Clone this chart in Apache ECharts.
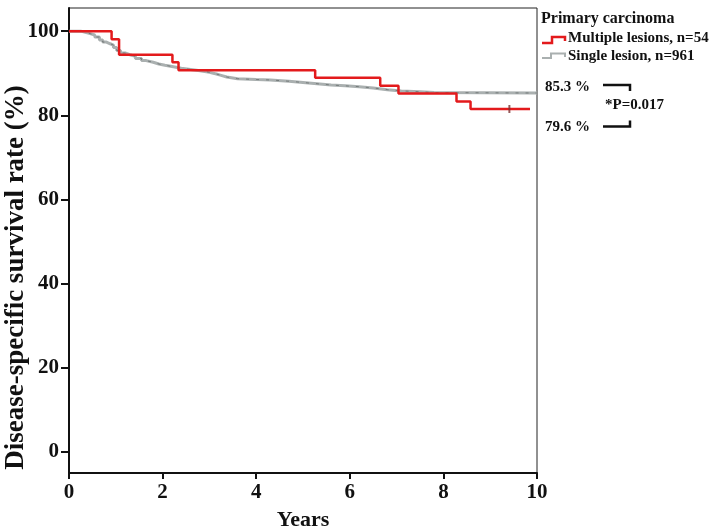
<!DOCTYPE html>
<html>
<head>
<meta charset="utf-8">
<script src="https://cdn.jsdelivr.net/npm/echarts@6/dist/echarts.min.js"></script>
<style>html,body{margin:0;padding:0;background:#fff}#c{width:713px;height:531px}</style>
</head>
<body>
<div id="c"></div>
<script>
const xTicks = [0, 2, 4, 6, 8, 10];
const yTicks = [0, 20, 40, 60, 80, 100];
// Multiple lesions (n=54): [years, survival %]
const multipleLesions = [[0,100],[0.91,98.1],[1.07,94.4],[2.21,92.6],[2.34,90.7],[5.26,88.9],[6.65,87.0],[7.04,85.2],[8.28,83.3],[8.58,81.5],[9.85,81.5]];
const multipleCensor = [[9.41,81.5]];
// Single lesion (n=961)
const singleLesion = [[0,100],[0.15,100],[0.25,99.7],[0.35,99.4],[0.45,99.1],[0.55,98.6],[0.65,97.9],[0.72,97.4],[0.8,97.0],[0.88,96.7],[0.95,96.1],[1.02,95.4],[1.1,94.8],[1.2,94.4],[1.3,94.0],[1.42,93.5],[1.55,93.0],[1.65,92.6],[1.8,92.2],[1.92,91.9],[2.05,91.6],[2.2,91.2],[2.4,90.9],[2.6,90.6],[2.8,90.2],[3.0,89.8],[3.15,89.5],[3.25,89.1],[3.37,88.7],[3.6,88.5],[4.0,88.4],[4.3,88.1],[4.7,87.8],[5.0,87.5],[5.3,87.2],[5.6,87.0],[5.9,86.8],[6.2,86.5],[6.5,86.1],[6.8,85.8],[7.1,85.6],[7.5,85.4],[7.8,85.3],[10,85.3]];

const F = '"Liberation Serif","Times New Roman",serif';
const chart = echarts.init(document.getElementById('c'), null, {renderer:'canvas'});
chart.setOption({
  animation: false,
  grid: {left: 69, right: 176, top: 8, bottom: 58, show: true, borderColor: '#222', borderWidth: 1, backgroundColor: 'transparent', containLabel: false, outerBoundsMode: 'none'},
  xAxis: {
    type: 'value', min: 0, max: 10, interval: 2,
    name: 'Years', nameLocation: 'middle', nameGap: 36,
    nameTextStyle: {fontFamily: F, fontWeight: 'bold', fontSize: 22, color: '#111'},
    axisLine: {show: true, onZero: false, lineStyle: {color: '#111', width: 2}},
    axisTick: {show: true, inside: false, length: 6, lineStyle: {color: '#111', width: 2}},
    axisLabel: {fontFamily: F, fontWeight: 'bold', fontSize: 21, color: '#111', margin: 9},
    splitLine: {show: false}
  },
  yAxis: {
    type: 'value', min: -5, max: 105.5,
    name: 'Disease-specific survival rate (%)', nameLocation: 'middle', nameGap: 39, nameMoveOverlap: false,
    nameTextStyle: {fontFamily: F, fontWeight: 'bold', fontSize: 27, color: '#111', padding: [0, 74, 0, 0]},
    axisLine: {show: true, onZero: false, lineStyle: {color: '#111', width: 2}},
    axisTick: {show: true, inside: false, length: 8, customValues: yTicks, lineStyle: {color: '#111', width: 2}},
    axisLabel: {fontFamily: F, fontWeight: 'bold', fontSize: 21, color: '#111', margin: 10, customValues: yTicks},
    splitLine: {show: false}
  },
  series: [
    {name: 'Single lesion, n=961', type: 'line', step: 'end', data: singleLesion, showSymbol: false,
     lineStyle: {color: '#aab0b0', width: 3}, z: 2},
    {name: 'Single lesion texture', type: 'line', step: 'end', data: singleLesion, showSymbol: false,
     lineStyle: {color: '#5e6464', width: 1, type: [3, 7], opacity: 0.7}, z: 3, silent: true},
    {name: 'Multiple lesions, n=54', type: 'line', step: 'end', data: multipleLesions, showSymbol: false,
     lineStyle: {color: '#e31a1c', width: 2.5}, z: 4},
    {name: 'Censored', type: 'scatter', data: multipleCensor, symbol: 'rect', symbolSize: [2, 8],
     itemStyle: {color: '#7a3030'}, z: 5}
  ],
  graphic: [
    {type: 'text', left: 541, top: 11, style: {text: 'Primary carcinoma', font: 'bold 16px ' + F, fill: '#111'}},
    {type: 'polyline', shape: {points: [[542,43],[552,43],[552,37],[565,37],[565,41]]}, style: {stroke: '#e31a1c', lineWidth: 2.5, fill: null}},
    {type: 'text', left: 568, top: 31, style: {text: 'Multiple lesions, n=54', font: 'bold 15px ' + F, fill: '#111'}},
    {type: 'polyline', shape: {points: [[542,58],[551,58],[551,53.5],[565,53.5],[565,57]]}, style: {stroke: '#aab0b0', lineWidth: 2, fill: null}},
    {type: 'text', left: 568, top: 48.5, style: {text: 'Single lesion, n=961', font: 'bold 15px ' + F, fill: '#111'}},
    {type: 'text', left: 545, top: 80, style: {text: '85.3 %', font: 'bold 15px ' + F, fill: '#111'}},
    {type: 'polyline', shape: {points: [[603,85],[630,85],[630,91]]}, style: {stroke: '#111', lineWidth: 2.5, fill: null}},
    {type: 'text', left: 605, top: 98, style: {text: '*P=0.017', font: 'bold 15px ' + F, fill: '#111'}},
    {type: 'text', left: 545, top: 119.5, style: {text: '79.6 %', font: 'bold 15px ' + F, fill: '#111'}},
    {type: 'polyline', shape: {points: [[603,126.5],[630,126.5],[630,120.5]]}, style: {stroke: '#111', lineWidth: 2.5, fill: null}}
  ]
});
</script>
</body>
</html>
